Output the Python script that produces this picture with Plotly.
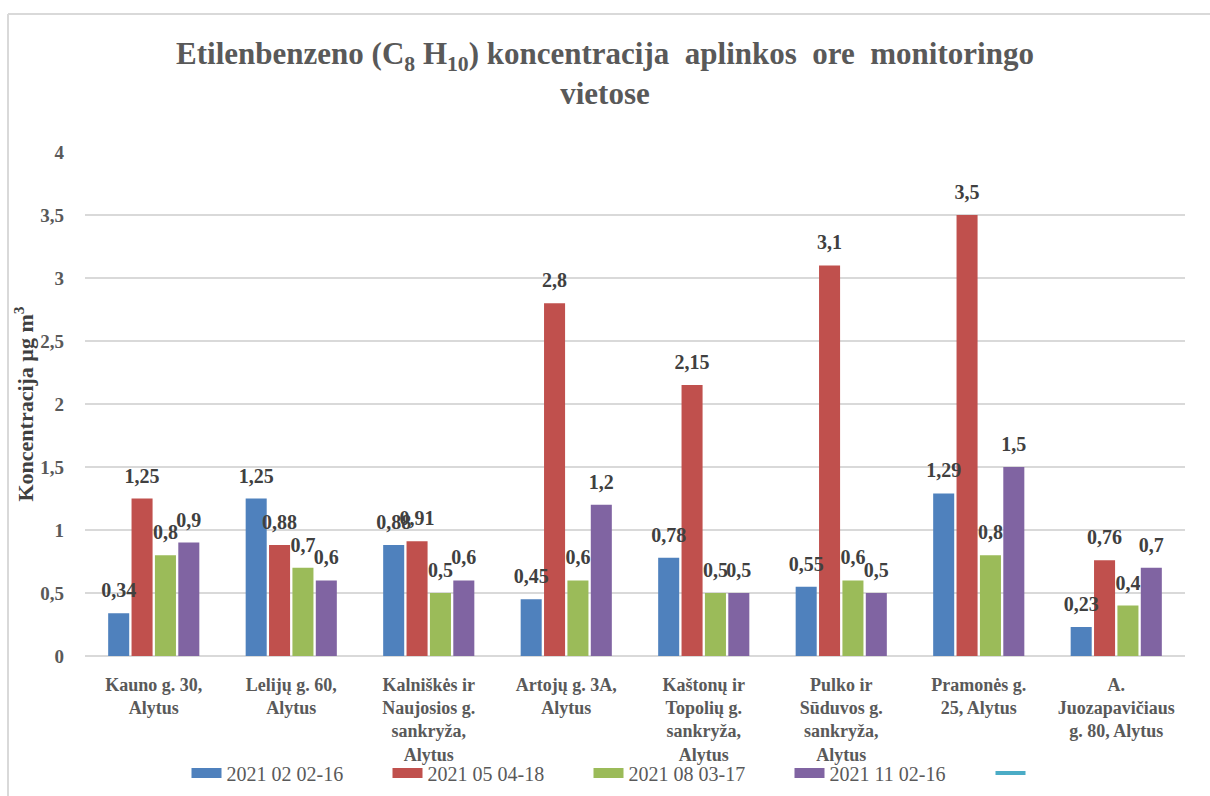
import plotly.graph_objects as go

# data
sites = [
    "Kauno g. 30,<br>Alytus",
    "Lelijų g. 60,<br>Alytus",
    "Kalniškės ir<br>Naujosios g.<br>sankryža,<br>Alytus",
    "Artojų g. 3A,<br>Alytus",
    "Kaštonų ir<br>Topolių g.<br>sankryža,<br>Alytus",
    "Pulko ir<br>Sūduvos g.<br>sankryža,<br>Alytus",
    "Pramonės g.<br>25, Alytus",
    "A.<br>Juozapavičiaus<br>g. 80, Alytus",
]
periods = ["2021 02 02-16", "2021 05 04-18", "2021 08 03-17", "2021 11 02-16"]
feb = [0.34, 1.25, 0.88, 0.45, 0.78, 0.55, 1.29, 0.23]
may = [1.25, 0.88, 0.91, 2.8, 2.15, 3.1, 3.5, 0.76]
aug = [0.8, 0.7, 0.5, 0.6, 0.5, 0.6, 0.8, 0.4]
nov = [0.9, 0.6, 0.6, 1.2, 0.5, 0.5, 1.5, 0.7]
y_ticks = [0, 0.5, 1, 1.5, 2, 2.5, 3, 3.5, 4]

colors = ["#4F81BD", "#C0504D", "#9BBB59", "#8064A2"]
FONT = "Liberation Serif"
W, H = 1210, 796
L, R, T, B = 85, 25, 152, 140


def px_x(p):
    return (p - L) / (W - L - R)


def px_y(p):
    return (H - B - p) / (H - T - B)


def fmt(v):
    return ("%g" % v).replace(".", ",")


fig = go.Figure()
for i, (name, vals, col) in enumerate(zip(periods, [feb, may, aug, nov], colors)):
    fig.add_trace(go.Bar(
        x=sites, y=vals, name=name, offsetgroup=str(i),
        legendgroup=name, showlegend=False,
        marker=dict(color=col, line=dict(width=0)),
    ))
    # value labels, grouped like the bars
    fig.add_trace(go.Scatter(
        x=sites, y=vals, mode="markers+text", offsetgroup=str(i),
        legendgroup=name, showlegend=False, hoverinfo="skip",
        marker=dict(size=16, opacity=0),
        text=[fmt(v) for v in vals], textposition="top center",
        cliponaxis=False,
        textfont=dict(family=FONT, size=20, color="#404040", weight="bold"),
    ))
    # wide legend swatch
    fig.add_trace(go.Scatter(
        x=[sites[0]], y=[None], mode="lines", name=name, legendgroup=name,
        line=dict(color=col, width=10),
    ))

# empty line series shown only in the legend
fig.add_trace(go.Scatter(
    x=[sites[0]], y=[None], mode="lines", name=" ",
    line=dict(color="#4BACC6", width=4),
))

fig.update_layout(
    width=W, height=H,
    margin=dict(l=L, r=R, t=T, b=B, autoexpand=False),
    paper_bgcolor="white", plot_bgcolor="white",
    barmode="group", bargap=0.32, bargroupgap=0.1,
    scattermode="group", scattergap=0.32,
    title=dict(
        text="Etilenbenzeno (C<sub>8</sub> H<sub>10</sub>) koncentracija  aplinkos  ore  monitoringo<br>vietose",
        x=0.5, xanchor="center", y=1 - 64 / H, yanchor="top",
        font=dict(family=FONT, size=31, color="#595959", weight="bold"),
    ),
    font=dict(family=FONT, color="#595959"),
    legend=dict(
        orientation="h", x=px_x(689), xanchor="center",
        y=px_y(773), yanchor="middle",
        entrywidth=156, bgcolor="rgba(0,0,0,0)",
        font=dict(family=FONT, size=20, color="#595959"),
    ),
    showlegend=True,
)

fig.update_xaxes(
    showgrid=False, showline=True, linecolor="#D9D9D9", linewidth=1,
    tickfont=dict(family=FONT, size=18, color="#595959", weight="bold"),
    ticklabelstandoff=12, automargin=False,
)
fig.update_yaxes(
    range=[0, 4], tickvals=y_ticks, ticktext=[fmt(v) for v in y_ticks],
    showgrid=True, gridcolor="#D9D9D9", gridwidth=1.5,
    zeroline=True, zerolinecolor="#D9D9D9", zerolinewidth=1.5,
    tickfont=dict(family=FONT, size=19, color="#595959", weight="bold"),
    ticklabelstandoff=20,
    title=dict(text="Koncentracija µg m<sup>3</sup>", standoff=0,
               font=dict(family=FONT, size=22, color="#404040", weight="bold")),
    automargin=False,
)

# chart border (left and top edges visible in the reference)
fig.add_shape(type="line", xref="paper", yref="paper",
              x0=px_x(8), x1=px_x(W + 5), y0=px_y(14), y1=px_y(14),
              line=dict(color="#D9D9D9", width=2))
fig.add_shape(type="line", xref="paper", yref="paper",
              x0=px_x(8), x1=px_x(8), y0=px_y(14), y1=px_y(H + 5),
              line=dict(color="#D9D9D9", width=2))

fig.write_html("out.html", config={"displayModeBar": False},
               post_script="document.body.style.margin='0px';")
